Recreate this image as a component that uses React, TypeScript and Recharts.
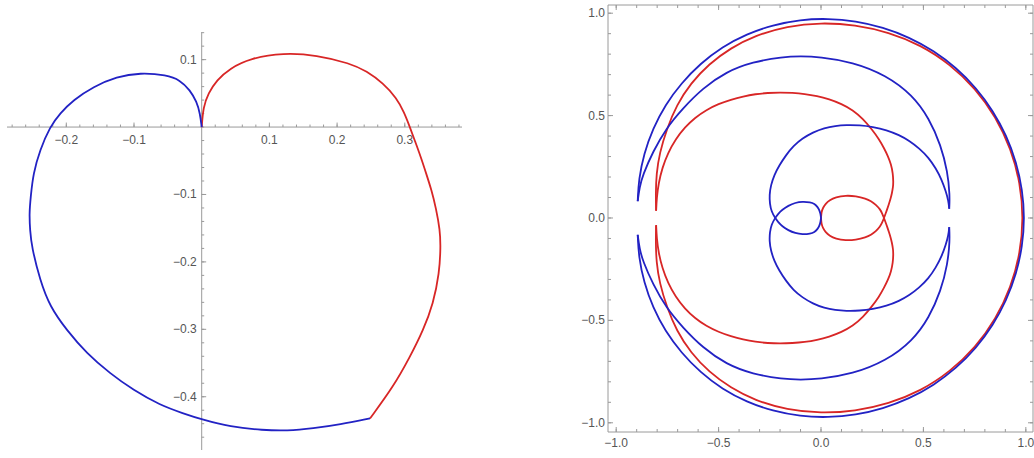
import React from 'react';
import { ScatterChart, Scatter, XAxis, YAxis, ReferenceLine, ReferenceArea } from 'recharts';

type P = [number, number];

const BLUE = '#2222c4';
const RED = '#d82626';
const AXIS = '#9a9a9a';
const LABEL = '#555555';
const FONT = '"Liberation Sans", Arial, sans-serif';

// ---------- left chart data ----------
const leftBlue: P[] = [
  [0, 0], [-0.0025, 0.0203], [-0.0074, 0.0376], [-0.0173, 0.0549], [-0.032, 0.0697], [-0.0517, 0.0772],
  [-0.0911, 0.0806], [-0.1256, 0.0747], [-0.16, 0.0599], [-0.1896, 0.0401], [-0.2093, 0.0203], [-0.2241, 0.0004],
  [-0.2389, -0.0341], [-0.2488, -0.0687], [-0.2526, -0.1034], [-0.2547, -0.1281], [-0.2536, -0.1528], [-0.2511, -0.1776],
  [-0.2389, -0.227], [-0.2241, -0.2666], [-0.1994, -0.3012], [-0.1699, -0.3358], [-0.1354, -0.3655], [-0.101, -0.3902],
  [-0.0616, -0.4125], [-0.0271, -0.4248], [0, -0.4337], [0.0418, -0.4447], [0.091, -0.4496], [0.1256, -0.4506],
  [0.1648, -0.447], [0.2043, -0.4411], [0.2486, -0.4322],
];
const leftRed: P[] = [
  [0, 0], [0.0024, 0.0301], [0.0097, 0.05], [0.0222, 0.0697], [0.0418, 0.0871], [0.0713, 0.1019], [0.1205, 0.1102],
  [0.1699, 0.1068], [0.2191, 0.0945], [0.2437, 0.083], [0.268, 0.065], [0.288, 0.043], [0.299, 0.022], [0.3075, 0],
  [0.3155, -0.022], [0.3235, -0.044], [0.3315, -0.0686], [0.3395, -0.0936], [0.346, -0.12], [0.352, -0.1528],
  [0.353, -0.1776], [0.351, -0.2171], [0.3421, -0.2616], [0.3273, -0.3012], [0.3077, -0.3408], [0.283, -0.3853],
  [0.2486, -0.4322],
];
const leftXMajor = [-0.2, -0.1, 0.1, 0.2, 0.3];
const leftXLabels = ['\u22120.2', '\u22120.1', '0.1', '0.2', '0.3'];
const leftYMajor = [0.1, -0.1, -0.2, -0.3, -0.4];
const leftYLabels = ['0.1', '\u22120.1', '\u22120.2', '\u22120.3', '\u22120.4'];

// ---------- right chart data ----------
const rBlueSmallUpper: P[] = [
  [0, 0], [-0.0025, 0.0203], [-0.0074, 0.0376], [-0.0173, 0.0549], [-0.032, 0.0697], [-0.0517, 0.0772],
  [-0.0911, 0.0806], [-0.1256, 0.0747], [-0.16, 0.0599], [-0.1896, 0.0401], [-0.2093, 0.0203], [-0.2241, 0],
];
const rBlueMedLower: P[] = [
  [-0.242, -0.032], [-0.25, -0.07], [-0.252, -0.112], [-0.245, -0.16], [-0.228, -0.21], [-0.205, -0.255],
  [-0.171, -0.307], [-0.135, -0.352], [-0.09, -0.389], [-0.04, -0.418], [0.016, -0.44], [0.07, -0.45],
  [0.122, -0.454], [0.19, -0.453], [0.252, -0.445], [0.32, -0.43], [0.382, -0.405], [0.43, -0.378],
  [0.48, -0.34], [0.525, -0.295], [0.561, -0.242], [0.59, -0.185], [0.61, -0.128], [0.622, -0.085], [0.626, -0.045],
];
const rBlueInnerLower: P[] = [
  [0.626, -0.045], [0.629, -0.112], [0.618, -0.226], [0.585, -0.356], [0.528, -0.486], [0.447, -0.6], [0.317, -0.698],
  [0.154, -0.762], [-0.008, -0.787], [-0.1, -0.79], [-0.187, -0.787], [-0.334, -0.762], [-0.463, -0.714],
  [-0.578, -0.633], [-0.675, -0.535], [-0.756, -0.438], [-0.821, -0.323], [-0.87, -0.21], [-0.886, -0.15], [-0.895, -0.082],
];
const rBlueOuterLower: P[] = [
  [-0.895, -0.082], [-0.89, -0.189], [-0.8645, -0.3146], [-0.821, -0.4366], [-0.7605, -0.5525], [-0.682, -0.6586],
  [-0.589, -0.754], [-0.4825, -0.8357], [-0.363, -0.8985], [-0.235, -0.943], [-0.102, -0.9687], [0.034, -0.9744],
  [0.1696, -0.962], [0.3025, -0.931], [0.4305, -0.8826], [0.5508, -0.8166], [0.6604, -0.7334], [0.7576, -0.6357],
  [0.8395, -0.5246], [0.9053, -0.403], [0.9536, -0.2734], [0.9834, -0.1382],
];
const rBlueOuterUpper: P[] = [
  [0.994, 0], [0.9834, 0.1382], [0.9536, 0.2734], [0.9053, 0.403], [0.8395, 0.5246], [0.7576, 0.6357], [0.6604, 0.7334],
  [0.5508, 0.8166], [0.4305, 0.8826], [0.3025, 0.931], [0.1696, 0.962], [0.034, 0.9744], [-0.102, 0.9687],
  [-0.235, 0.943], [-0.363, 0.8985], [-0.4825, 0.8357], [-0.589, 0.754], [-0.682, 0.6586], [-0.7605, 0.5525],
  [-0.821, 0.4366], [-0.8645, 0.3146], [-0.89, 0.189], [-0.895, 0.082],
];
const rBlueInnerUpper: P[] = [
  [-0.895, 0.082], [-0.886, 0.15], [-0.87, 0.21], [-0.821, 0.323], [-0.756, 0.438], [-0.675, 0.535], [-0.578, 0.633],
  [-0.463, 0.714], [-0.334, 0.762], [-0.187, 0.787], [-0.1, 0.79], [-0.008, 0.787], [0.154, 0.762],
  [0.317, 0.698], [0.447, 0.6], [0.528, 0.486], [0.585, 0.356], [0.618, 0.226], [0.629, 0.112], [0.626, 0.045],
];
const rBlueMedUpper: P[] = [
  [0.626, 0.045], [0.622, 0.085], [0.61, 0.128], [0.59, 0.185], [0.561, 0.242], [0.525, 0.295], [0.48, 0.34], [0.43, 0.378],
  [0.382, 0.405], [0.32, 0.43], [0.252, 0.445], [0.19, 0.453], [0.122, 0.454], [0.07, 0.45], [0.016, 0.44],
  [-0.04, 0.418], [-0.09, 0.389], [-0.135, 0.352], [-0.171, 0.307], [-0.205, 0.255], [-0.228, 0.21],
  [-0.245, 0.16], [-0.252, 0.112], [-0.25, 0.07], [-0.242, 0.032], [-0.2241, 0],
];
const rBlueSmallLower: P[] = [
  [-0.2093, -0.0203], [-0.1896, -0.0401], [-0.16, -0.0599], [-0.1256, -0.0747], [-0.0911, -0.0806],
  [-0.0517, -0.0772], [-0.032, -0.0697], [-0.0173, -0.0549], [-0.0074, -0.0376], [-0.0025, -0.0203], [0, 0],
];

const rRedSmallUpper: P[] = [
  [0, 0], [0.0024, 0.0301], [0.0097, 0.05], [0.0222, 0.0697], [0.0418, 0.0871], [0.0713, 0.1019], [0.1205, 0.1102],
  [0.1699, 0.1068], [0.2191, 0.0945], [0.2437, 0.083], [0.268, 0.065], [0.288, 0.043], [0.299, 0.022], [0.3075, 0],
];
const rRedMedLower: P[] = [
  [0.3155, -0.022], [0.3235, -0.044], [0.3315, -0.0686], [0.3395, -0.0936], [0.346, -0.12], [0.352, -0.1528],
  [0.353, -0.1776], [0.351, -0.2171], [0.3421, -0.2616], [0.3273, -0.3012], [0.3077, -0.3408], [0.283, -0.3853],
  [0.2486, -0.4322], [0.205, -0.484], [0.155, -0.527], [0.1, -0.557], [0.04, -0.58], [-0.02, -0.596], [-0.08, -0.606],
  [-0.14, -0.611], [-0.2, -0.613], [-0.26, -0.611], [-0.32, -0.605], [-0.38, -0.594], [-0.44, -0.578], [-0.5, -0.557],
  [-0.56, -0.528], [-0.615, -0.49], [-0.665, -0.443], [-0.71, -0.385], [-0.747, -0.318], [-0.775, -0.245],
  [-0.793, -0.17], [-0.802, -0.1], [-0.805, -0.035],
];
const rRedOuterLower: P[] = [
  [-0.805, -0.035], [-0.807, -0.113], [-0.804, -0.215], [-0.788, -0.318], [-0.753, -0.435], [-0.705, -0.551],
  [-0.636, -0.658], [-0.547, -0.752], [-0.441, -0.83], [-0.324, -0.89], [-0.165, -0.9375], [0, -0.954],
  [0.1664, -0.9434], [0.33, -0.907], [0.4875, -0.8444], [0.63, -0.7507], [0.7538, -0.6325], [0.8539, -0.493],
  [0.9275, -0.3376], [0.973, -0.1716],
];
const rRedOuterUpper: P[] = [
  [0.988, 0], [0.973, 0.1716], [0.9275, 0.3376], [0.8539, 0.493], [0.7538, 0.6325], [0.63, 0.7507], [0.4875, 0.8444],
  [0.33, 0.907], [0.1664, 0.9434], [0, 0.954], [-0.165, 0.9375], [-0.324, 0.89], [-0.441, 0.83], [-0.547, 0.752],
  [-0.636, 0.658], [-0.705, 0.551], [-0.753, 0.435], [-0.788, 0.318], [-0.804, 0.215], [-0.807, 0.113], [-0.805, 0.035],
];
const rRedMedUpper: P[] = [
  [-0.805, 0.035], [-0.802, 0.1], [-0.793, 0.17], [-0.775, 0.245], [-0.747, 0.318], [-0.71, 0.385], [-0.665, 0.443],
  [-0.615, 0.49], [-0.56, 0.528], [-0.5, 0.557], [-0.44, 0.578], [-0.38, 0.594], [-0.32, 0.605], [-0.26, 0.611],
  [-0.2, 0.613], [-0.14, 0.611], [-0.08, 0.606], [-0.02, 0.596], [0.04, 0.58], [0.1, 0.557], [0.155, 0.527],
  [0.205, 0.484], [0.2486, 0.4322], [0.283, 0.3853], [0.3077, 0.3408], [0.3273, 0.3012], [0.3421, 0.2616],
  [0.351, 0.2171], [0.353, 0.1776], [0.352, 0.1528], [0.346, 0.12], [0.3395, 0.0936], [0.3315, 0.0686],
  [0.3235, 0.044], [0.3155, 0.022], [0.3075, 0],
];
const rRedSmallLower: P[] = [
  [0.299, -0.022], [0.288, -0.043], [0.268, -0.065], [0.2437, -0.083], [0.2191, -0.0945], [0.1699, -0.1068],
  [0.1205, -0.1102], [0.0713, -0.1019], [0.0418, -0.0871], [0.0222, -0.0697], [0.0097, -0.05], [0.0024, -0.0301], [0, 0],
];

const rightMajor = [-1, -0.5, 0, 0.5, 1];
const rightLabels = ['\u22121.0', '\u22120.5', '0.0', '0.5', '1.0'];

// ---------- helpers ----------
const toPts = (a: P[]) => a.map(([x, y]) => ({ x, y }));
const range = (from: number, to: number, step: number) => {
  const out: number[] = [];
  const n = Math.round((to - from) / step);
  for (let i = 0; i <= n; i++) out.push(Math.round((from + i * step) * 1000) / 1000);
  return out;
};
const Empty = () => <g />;

const LX: [number, number] = [-0.2876, 0.3845];
const LY: [number, number] = [-0.479, 0.141];
const RX: [number, number] = [-1.04, 1.035];
const RY: [number, number] = [-1.045, 1.04];

const leftXTicks = [
  ...range(-0.28, 0.38, 0.02).map((v) => ({ x: v, y: 0, major: false, label: '' })),
  ...leftXMajor.map((v, i) => ({ x: v, y: 0, major: true, label: leftXLabels[i] })),
];
const leftYTicks = [
  ...range(-0.46, 0.14, 0.02).map((v) => ({ x: 0, y: v, major: false, label: '' })),
  ...leftYMajor.map((v, i) => ({ x: 0, y: v, major: true, label: leftYLabels[i] })),
];

const rightMinor = range(-1, 1, 0.1);
const bottomTicks = [
  ...rightMinor.map((v) => ({ x: v, y: RY[0], major: false, label: '' })),
  ...rightMajor.map((v, i) => ({ x: v, y: RY[0], major: true, label: rightLabels[i] })),
];
const topTicks = [
  ...rightMinor.map((v) => ({ x: v, y: RY[1], major: false })),
  ...rightMajor.map((v) => ({ x: v, y: RY[1], major: true })),
];
const leftFrameTicks = [
  ...rightMinor.map((v) => ({ x: RX[0], y: v, major: false, label: '' })),
  ...rightMajor.map((v, i) => ({ x: RX[0], y: v, major: true, label: rightLabels[i] })),
];
const rightFrameTicks = [
  ...rightMinor.map((v) => ({ x: RX[1], y: v, major: false })),
  ...rightMajor.map((v) => ({ x: RX[1], y: v, major: true })),
];

const textProps = { fontFamily: FONT, fontSize: 12, fill: LABEL };

const AxisXTick = (p: any) => {
  const { cx, cy, payload } = p;
  const len = payload.major ? 4.5 : 2.5;
  return (
    <g>
      <line x1={cx} y1={cy} x2={cx} y2={cy - len} stroke={AXIS} strokeWidth={1} />
      {payload.major ? (
        <text x={cx} y={cy + 17} textAnchor="middle" {...textProps}>{payload.label}</text>
      ) : null}
    </g>
  );
};
const AxisYTick = (p: any) => {
  const { cx, cy, payload } = p;
  const len = payload.major ? 4.5 : 2.5;
  return (
    <g>
      <line x1={cx} y1={cy} x2={cx + len} y2={cy} stroke={AXIS} strokeWidth={1} />
      {payload.major ? (
        <text x={cx - 5} y={cy + 4} textAnchor="end" {...textProps}>{payload.label}</text>
      ) : null}
    </g>
  );
};
const FrameBottomTick = (p: any) => {
  const { cx, cy, payload } = p;
  const len = payload.major ? 5 : 3;
  return (
    <g>
      <line x1={cx} y1={cy} x2={cx} y2={cy - len} stroke={AXIS} strokeWidth={1} />
      {payload.major ? (
        <text x={cx} y={cy + 15} textAnchor="middle" {...textProps}>{payload.label}</text>
      ) : null}
    </g>
  );
};
const FrameTopTick = (p: any) => {
  const { cx, cy, payload } = p;
  const len = payload.major ? 5 : 3;
  return <line x1={cx} y1={cy} x2={cx} y2={cy + len} stroke={AXIS} strokeWidth={1} />;
};
const FrameLeftTick = (p: any) => {
  const { cx, cy, payload } = p;
  const len = payload.major ? 5 : 3;
  return (
    <g>
      <line x1={cx} y1={cy} x2={cx + len} y2={cy} stroke={AXIS} strokeWidth={1} />
      {payload.major ? (
        <text x={cx - 3} y={cy + 4} textAnchor="end" {...textProps}>{payload.label}</text>
      ) : null}
    </g>
  );
};
const FrameRightTick = (p: any) => {
  const { cx, cy, payload } = p;
  const len = payload.major ? 5 : 3;
  return <line x1={cx} y1={cy} x2={cx - len} y2={cy} stroke={AXIS} strokeWidth={1} />;
};

// smooth pieces between cusps
const rightBlueSegments: P[][] = [
  [...rBlueSmallUpper, ...rBlueMedLower],
  rBlueInnerLower,
  [...rBlueOuterLower, ...rBlueOuterUpper],
  rBlueInnerUpper,
  [...rBlueMedUpper, ...rBlueSmallLower],
];
const rightRedSegments: P[][] = [
  [...rRedSmallUpper, ...rRedMedLower],
  [...rRedOuterLower, ...rRedOuterUpper],
  [...rRedMedUpper, ...rRedSmallLower],
];

const curve = (pts: P[], color: string, key: string) => (
  <Scatter
    key={key}
    data={toPts(pts)}
    line={{ stroke: color, strokeWidth: 1.8 }}
    lineType="joint"
    lineJointType="basis"
    shape={Empty}
    isAnimationActive={false}
  />
);

export default function App() {
  return (
    <div style={{ position: 'absolute', left: 0, top: 0, width: 1034, height: 458, background: '#fff' }}>
      <div style={{ position: 'absolute', left: 0, top: 0 }}>
        <ScatterChart width={470} height={458} margin={{ top: 32, right: 8, bottom: 8, left: 7 }}>
          <XAxis type="number" dataKey="x" domain={LX} hide />
          <YAxis type="number" dataKey="y" domain={LY} hide />
          <ReferenceLine y={0} stroke={AXIS} strokeWidth={1} />
          <ReferenceLine x={0} stroke={AXIS} strokeWidth={1} />
          <Scatter data={leftXTicks} shape={AxisXTick} isAnimationActive={false} />
          <Scatter data={leftYTicks} shape={AxisYTick} isAnimationActive={false} />
          {curve(leftRed, RED, 'lr')}
          {curve(leftBlue, BLUE, 'lb')}
        </ScatterChart>
      </div>
      <div style={{ position: 'absolute', left: 560, top: 0 }}>
        <ScatterChart width={474} height={458} margin={{ top: 5, right: 1, bottom: 26, left: 48 }}>
          <XAxis type="number" dataKey="x" domain={RX} hide />
          <YAxis type="number" dataKey="y" domain={RY} hide />
          <ReferenceArea x1={RX[0]} x2={RX[1]} y1={RY[0]} y2={RY[1]} fill="none" fillOpacity={0} stroke={AXIS} strokeWidth={1} />
          <Scatter data={bottomTicks} shape={FrameBottomTick} isAnimationActive={false} />
          <Scatter data={topTicks} shape={FrameTopTick} isAnimationActive={false} />
          <Scatter data={leftFrameTicks} shape={FrameLeftTick} isAnimationActive={false} />
          <Scatter data={rightFrameTicks} shape={FrameRightTick} isAnimationActive={false} />
          {rightRedSegments.map((s, i) => curve(s, RED, 'rr' + i))}
          {rightBlueSegments.map((s, i) => curve(s, BLUE, 'rb' + i))}
        </ScatterChart>
      </div>
    </div>
  );
}
